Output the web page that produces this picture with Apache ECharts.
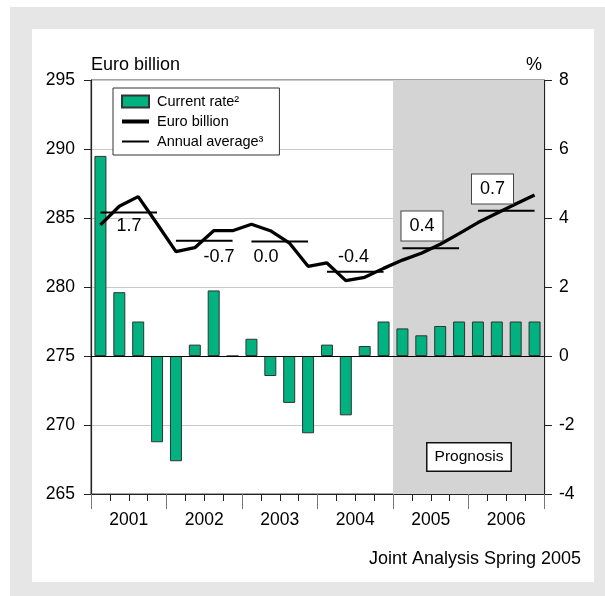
<!DOCTYPE html>
<html>
<head>
<meta charset="utf-8">
<script src="https://cdn.jsdelivr.net/npm/echarts@6/dist/echarts.min.js"></script>
<style>
  html, body { margin: 0; padding: 0; background: #fff; }
  #frame { position: absolute; left: 10px; top: 7px; width: 595px; height: 589px; background: #e6e6e6; }
  #panel { position: absolute; left: 32px; top: 29px; width: 562px; height: 553px; background: #fff; }
  #chart { position: absolute; left: 0; top: 0; width: 605px; height: 596px; }
</style>
</head>
<body>
<div id="frame"></div>
<div id="panel"></div>
<div id="chart"></div>
<script>
// years and quarters
const years = ['2001', '2002', '2003', '2004', '2005', '2006']
const quarters = []
years.forEach(y => ['Q1', 'Q2', 'Q3', 'Q4'].forEach(q => quarters.push(y + q)))

// current rate, % (right axis)
const currentRate = [5.8, 1.85, 1.0, -2.5, -3.05, 0.33, 1.9, 0, 0.5, -0.58, -1.36, -2.24,
  0.33, -1.72, 0.29, 1.0, 0.8, 0.6, 0.87, 1.0, 1.0, 1.0, 1.0, 1.0]
// euro billion (left axis)
const euroBillion = [284.5, 285.85, 286.55, 284.58, 282.56, 282.85, 284.08, 284.08,
  284.55, 284.08, 283.2, 281.5, 281.74, 280.46, 280.7, 281.35,
  281.95, 282.45, 283.1, 283.87, 284.67, 285.35, 286.02, 286.67]
// annual averages and their growth labels
const annualAverage = [285.4, 283.36, 283.3, 281.1, 282.8, 285.53]
const annualGrowth = ['1.7', '-0.7', '0.0', '-0.4', '0.4', '0.7']
// prognosis starts at this quarter
const prognosisFrom = 16

const FONT = '"Liberation Sans", Arial, Helvetica, sans-serif'

const chart = echarts.init(document.getElementById('chart'))

// one line series per year so the segments stay apart
const avgSeries = years.map((y, k) => ({
  name: 'Annual average³',
  type: 'line',
  xAxisIndex: 0,
  yAxisIndex: 0,
  symbol: 'none',
  z: 4,
  itemStyle: { color: '#000' },
  lineStyle: { color: '#000', width: 2 },
  data: quarters.map((q, i) => (Math.floor(i / 4) === k ? annualAverage[k] : null))
}))

// growth labels, plain ones and boxed ones
const labelPos = [[129, 226], [219, 257], [266, 257], [353.5, 257], [422, 226], [492.5, 189]]
const labelGraphics = annualGrowth.map((t, k) => {
  const boxed = k >= 4
  return {
    type: 'text',
    x: labelPos[k][0],
    y: labelPos[k][1],
    z: 10,
    style: Object.assign({
      text: t,
      font: '18px ' + FONT,
      fill: '#000',
      align: 'center',
      verticalAlign: 'middle'
    }, boxed ? {
      backgroundColor: '#fff',
      borderColor: '#444',
      borderWidth: 1,
      padding: [6, 8, 5, 8]
    } : {})
  }
})

// legend line icons: no marker dot in the middle
const noDot = { color: 'rgba(0,0,0,0)', borderColor: 'rgba(0,0,0,0)', borderWidth: 0, opacity: 0 }

chart.setOption({
  animation: false,
  grid: {
    left: 91,
    right: 61,
    top: 80,
    bottom: 102,
    show: true,
    borderColor: '#444',
    borderWidth: 1
  },
  legend: {
    left: 113,
    top: 88,
    orient: 'vertical',
    backgroundColor: '#fff',
    borderColor: '#333',
    borderWidth: 1,
    padding: [6, 16, 6, 7],
    itemWidth: 27,
    itemHeight: 12,
    itemGap: 5,
    textStyle: { fontFamily: FONT, fontSize: 14.5, color: '#000', padding: [0, 0, 0, 3] },
    data: [
      { name: 'Current rate²', icon: 'rect' },
      { name: 'Euro billion', itemStyle: noDot, lineStyle: { color: '#000', width: 4 } },
      { name: 'Annual average³', itemStyle: noDot, lineStyle: { color: '#000', width: 2 } }
    ]
  },
  xAxis: [
    {
      type: 'category',
      data: quarters,
      axisLine: { onZero: false, lineStyle: { color: '#222', width: 1.2 } },
      axisTick: { show: true, interval: 0, length: 7, lineStyle: { color: '#222' } },
      axisLabel: { show: false }
    },
    {
      type: 'category',
      data: years,
      position: 'bottom',
      axisLine: { show: false, onZero: false },
      axisTick: { show: true, interval: 0, length: 15, lineStyle: { color: '#777' } },
      axisLabel: { margin: 17, fontFamily: FONT, fontSize: 17.5, color: '#000' }
    },
    { type: 'value', min: 0, max: 24, show: false, axisLine: { onZero: false } }
  ],
  yAxis: [
    {
      type: 'value',
      min: 265,
      max: 295,
      interval: 5,
      axisLine: { show: true, onZero: false, lineStyle: { color: '#222', width: 1.2 } },
      axisTick: { show: true, length: 7, lineStyle: { color: '#222' } },
      axisLabel: { margin: 16, fontFamily: FONT, fontSize: 17.5, color: '#000' },
      splitLine: { lineStyle: { color: '#c8c8c8' } }
    },
    {
      type: 'value',
      min: -4,
      max: 8,
      interval: 2,
      position: 'right',
      axisLine: { show: true, onZero: false, lineStyle: { color: '#222', width: 1.2 } },
      axisTick: { show: true, length: 8, lineStyle: { color: '#222' } },
      axisLabel: { margin: 15, fontFamily: FONT, fontSize: 17.5, color: '#000' },
      splitLine: { show: false }
    }
  ],
  series: [
    {
      // shaded prognosis period
      type: 'line',
      xAxisIndex: 2,
      yAxisIndex: 1,
      symbol: 'none',
      silent: true,
      z: 0,
      lineStyle: { opacity: 0 },
      data: [[0, 0]],
      markArea: {
        silent: true,
        itemStyle: { color: '#d4d4d4' },
        data: [[{ xAxis: prognosisFrom }, { xAxis: 24 }]]
      }
    },
    {
      name: 'Current rate²',
      type: 'bar',
      xAxisIndex: 0,
      yAxisIndex: 1,
      barWidth: 12,
      z: 2,
      itemStyle: { color: '#00b27f', borderColor: '#333', borderWidth: 1 },
      data: currentRate,
      markLine: {
        silent: true,
        symbol: 'none',
        label: { show: false },
        lineStyle: { color: '#000', width: 1.2, type: 'solid' },
        data: [{ yAxis: 0 }]
      }
    },
    {
      name: 'Euro billion',
      type: 'line',
      xAxisIndex: 0,
      yAxisIndex: 0,
      symbol: 'none',
      z: 5,
      itemStyle: { color: '#000' },
      lineStyle: { color: '#000', width: 3.3 },
      data: euroBillion
    },
    ...avgSeries
  ],
  graphic: [
    { type: 'text', x: 91, y: 65, style: { text: 'Euro billion', font: '18px ' + FONT, fill: '#000', align: 'left', verticalAlign: 'middle' } },
    { type: 'text', x: 542, y: 65, style: { text: '%', font: '18px ' + FONT, fill: '#000', align: 'right', verticalAlign: 'middle' } },
    { type: 'text', x: 581, y: 559, style: { text: 'Joint Analysis Spring 2005', font: '18px ' + FONT, fill: '#000', align: 'right', verticalAlign: 'middle' } },
    {
      type: 'text', x: 469, y: 457, z: 10,
      style: {
        text: 'Prognosis', font: '15.5px ' + FONT, fill: '#000', align: 'center', verticalAlign: 'middle',
        backgroundColor: '#fff', borderColor: '#111', borderWidth: 1.5, padding: [6, 7, 5, 7]
      }
    },
    ...labelGraphics
  ]
})
</script>
</body>
</html>
